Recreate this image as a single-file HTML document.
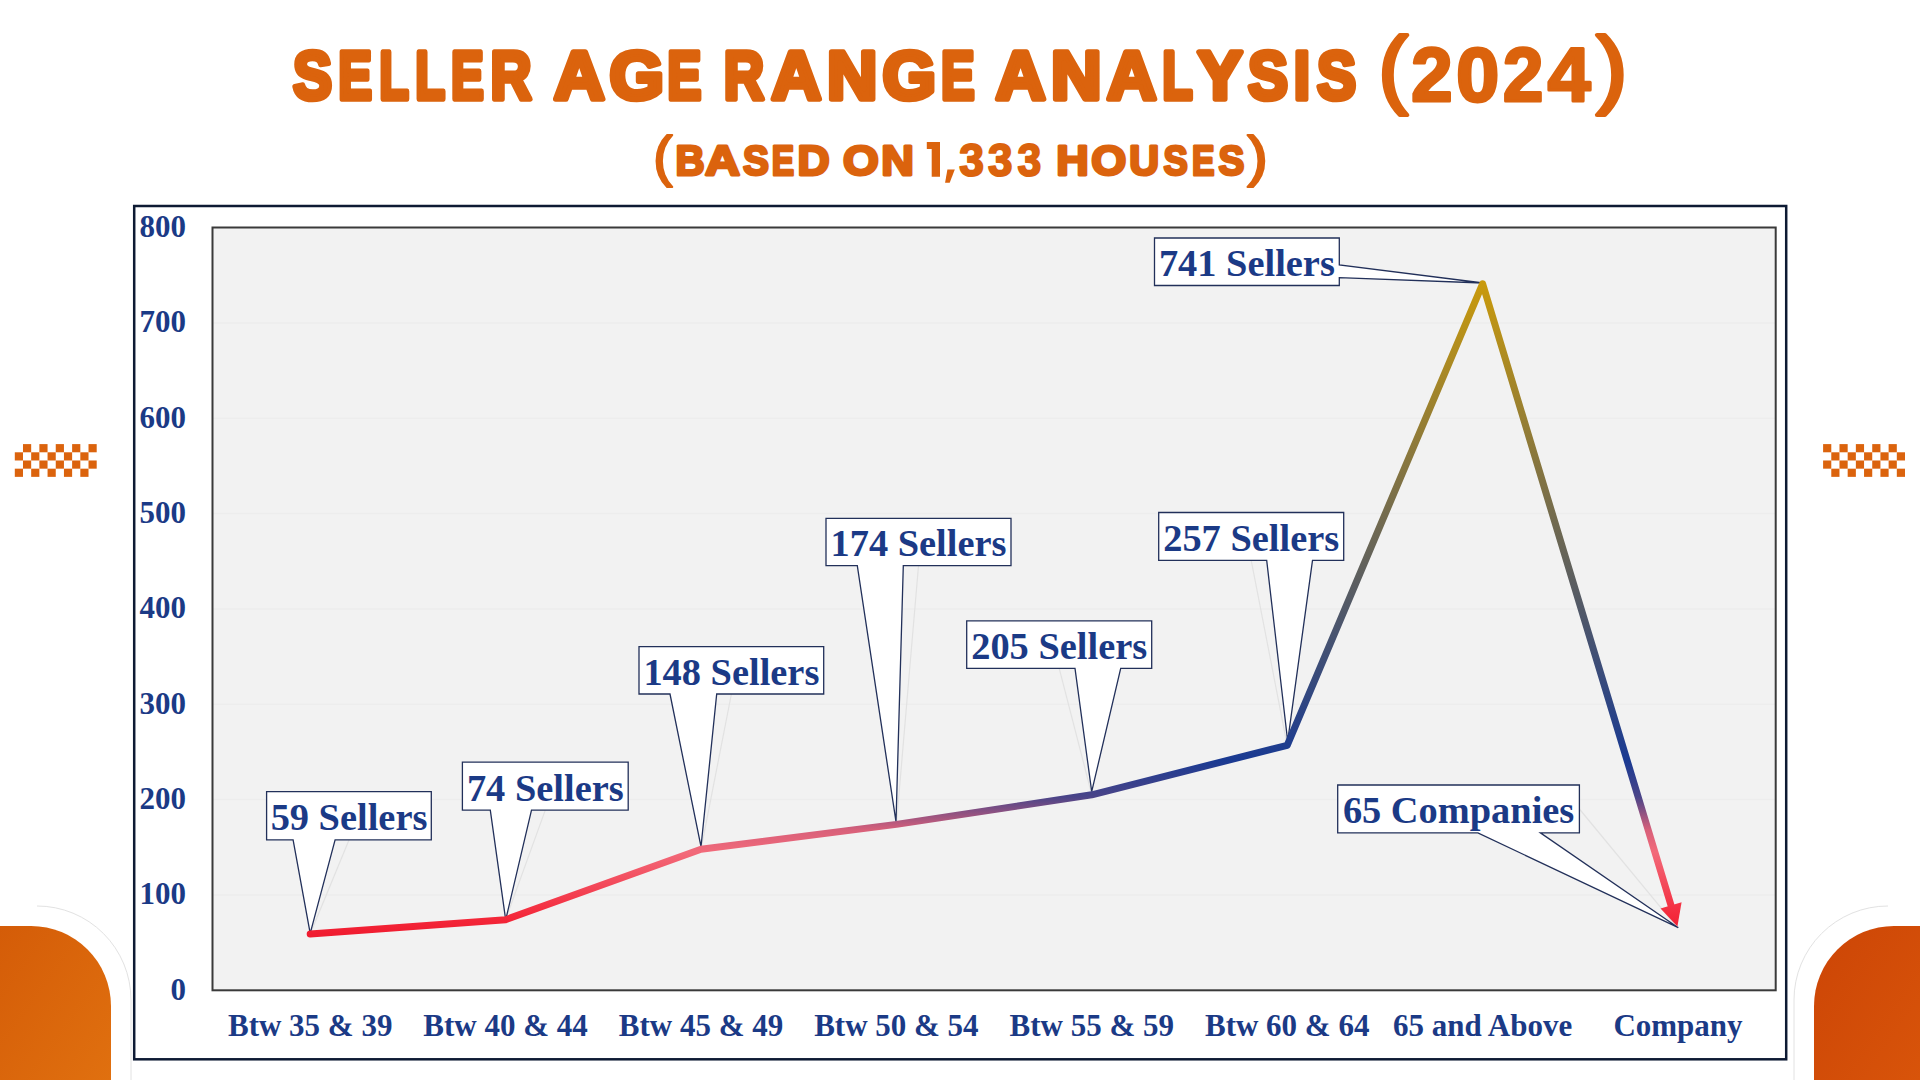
<!DOCTYPE html>
<html><head><meta charset="utf-8">
<style>
html,body{margin:0;padding:0;background:#fff;width:1920px;height:1080px;overflow:hidden}
svg{display:block}
.t{font-family:"Liberation Sans",sans-serif;font-weight:bold;fill:#db630d}
.t[font-weight="normal"]{font-weight:normal}
.s{font-family:"Liberation Serif",serif;font-weight:bold;fill:#1b3a86}
</style></head><body>
<svg width="1920" height="1080" viewBox="0 0 1920 1080">
<defs>
<linearGradient id="lg" gradientUnits="userSpaceOnUse" x1="0" y1="283" x2="0" y2="934">
<stop offset="0" stop-color="#c99a0c"/>
<stop offset="0.7327" stop-color="#1a3a92"/>
<stop offset="0.7896" stop-color="#4a4488"/>
<stop offset="0.8402" stop-color="#d8607a"/>
<stop offset="0.8740" stop-color="#f26a7a"/>
<stop offset="0.9708" stop-color="#f42a3c"/>
<stop offset="1" stop-color="#f01c30"/>
</linearGradient>
<linearGradient id="og1" x1="0" y1="0" x2="1" y2="1">
<stop offset="0" stop-color="#d45c08"/><stop offset="1" stop-color="#e0700f"/>
</linearGradient>
<linearGradient id="og2" x1="0" y1="0" x2="1" y2="1">
<stop offset="0" stop-color="#cc4506"/><stop offset="1" stop-color="#d8540a"/>
</linearGradient>
</defs>

<text class="t" x="292.95" y="99.25" font-size="68.81" stroke="#db630d" stroke-width="5.5" stroke-linejoin="round" textLength="39.03" lengthAdjust="spacingAndGlyphs">S</text>
<text class="t" x="338.17" y="99.25" font-size="68.81" stroke="#db630d" stroke-width="5.5" stroke-linejoin="round" textLength="33.76" lengthAdjust="spacingAndGlyphs">E</text>
<text class="t" x="379.20" y="99.25" font-size="68.81" stroke="#db630d" stroke-width="5.5" stroke-linejoin="round" textLength="29.61" lengthAdjust="spacingAndGlyphs">L</text>
<text class="t" x="415.13" y="99.25" font-size="68.81" stroke="#db630d" stroke-width="5.5" stroke-linejoin="round" textLength="29.86" lengthAdjust="spacingAndGlyphs">L</text>
<text class="t" x="450.96" y="99.25" font-size="68.81" stroke="#db630d" stroke-width="5.5" stroke-linejoin="round" textLength="32.75" lengthAdjust="spacingAndGlyphs">E</text>
<text class="t" x="490.58" y="99.25" font-size="68.81" stroke="#db630d" stroke-width="5.5" stroke-linejoin="round" textLength="41.00" lengthAdjust="spacingAndGlyphs">R</text>
<text class="t" x="553.95" y="99.25" font-size="68.81" stroke="#db630d" stroke-width="5.5" stroke-linejoin="round" textLength="50.55" lengthAdjust="spacingAndGlyphs">A</text>
<text class="t" x="609.44" y="99.25" font-size="68.81" stroke="#db630d" stroke-width="5.5" stroke-linejoin="round" textLength="54.43" lengthAdjust="spacingAndGlyphs">G</text>
<text class="t" x="667.15" y="99.25" font-size="68.81" stroke="#db630d" stroke-width="5.5" stroke-linejoin="round" textLength="34.10" lengthAdjust="spacingAndGlyphs">E</text>
<text class="t" x="723.77" y="99.25" font-size="68.81" stroke="#db630d" stroke-width="5.5" stroke-linejoin="round" textLength="40.30" lengthAdjust="spacingAndGlyphs">R</text>
<text class="t" x="771.47" y="99.25" font-size="68.81" stroke="#db630d" stroke-width="5.5" stroke-linejoin="round" textLength="49.64" lengthAdjust="spacingAndGlyphs">A</text>
<text class="t" x="826.96" y="99.25" font-size="68.81" stroke="#db630d" stroke-width="5.5" stroke-linejoin="round" textLength="50.35" lengthAdjust="spacingAndGlyphs">N</text>
<text class="t" x="882.62" y="99.25" font-size="68.81" stroke="#db630d" stroke-width="5.5" stroke-linejoin="round" textLength="53.46" lengthAdjust="spacingAndGlyphs">G</text>
<text class="t" x="940.91" y="99.25" font-size="68.81" stroke="#db630d" stroke-width="5.5" stroke-linejoin="round" textLength="33.63" lengthAdjust="spacingAndGlyphs">E</text>
<text class="t" x="995.66" y="99.25" font-size="68.81" stroke="#db630d" stroke-width="5.5" stroke-linejoin="round" textLength="49.69" lengthAdjust="spacingAndGlyphs">A</text>
<text class="t" x="1051.01" y="99.25" font-size="68.81" stroke="#db630d" stroke-width="5.5" stroke-linejoin="round" textLength="50.49" lengthAdjust="spacingAndGlyphs">N</text>
<text class="t" x="1106.90" y="99.25" font-size="68.81" stroke="#db630d" stroke-width="5.5" stroke-linejoin="round" textLength="49.42" lengthAdjust="spacingAndGlyphs">A</text>
<text class="t" x="1162.20" y="99.25" font-size="68.81" stroke="#db630d" stroke-width="5.5" stroke-linejoin="round" textLength="30.40" lengthAdjust="spacingAndGlyphs">L</text>
<text class="t" x="1197.80" y="99.25" font-size="68.81" stroke="#db630d" stroke-width="5.5" stroke-linejoin="round" textLength="44.61" lengthAdjust="spacingAndGlyphs">Y</text>
<text class="t" x="1247.95" y="99.25" font-size="68.81" stroke="#db630d" stroke-width="5.5" stroke-linejoin="round" textLength="39.93" lengthAdjust="spacingAndGlyphs">S</text>
<text class="t" x="1293.77" y="99.25" font-size="68.81" stroke="#db630d" stroke-width="5.5" stroke-linejoin="round" textLength="16.29" lengthAdjust="spacingAndGlyphs">I</text>
<text class="t" x="1316.90" y="99.25" font-size="68.81" stroke="#db630d" stroke-width="5.5" stroke-linejoin="round" textLength="39.07" lengthAdjust="spacingAndGlyphs">S</text>
<text class="t" font-weight="normal" x="1378.54" y="97.40" font-size="84.71" stroke="#db630d" stroke-width="4" stroke-linejoin="round" textLength="29.29" lengthAdjust="spacingAndGlyphs">(</text>
<text class="t" x="1411.15" y="100.50" font-size="75.8" stroke="#db630d" stroke-width="3" stroke-linejoin="round" textLength="41.24" lengthAdjust="spacingAndGlyphs">2</text>
<text class="t" x="1456.15" y="100.50" font-size="75.8" stroke="#db630d" stroke-width="3" stroke-linejoin="round" textLength="42.93" lengthAdjust="spacingAndGlyphs">0</text>
<text class="t" x="1502.96" y="100.50" font-size="75.8" stroke="#db630d" stroke-width="3" stroke-linejoin="round" textLength="40.31" lengthAdjust="spacingAndGlyphs">2</text>
<text class="t" x="1547.81" y="100.50" font-size="75.8" stroke="#db630d" stroke-width="3" stroke-linejoin="round" textLength="42.82" lengthAdjust="spacingAndGlyphs">4</text>
<text class="t" font-weight="normal" x="1596.47" y="97.40" font-size="84.71" stroke="#db630d" stroke-width="4" stroke-linejoin="round" textLength="30.70" lengthAdjust="spacingAndGlyphs">)</text>
<text class="t" font-weight="normal" x="652.92" y="174.55" font-size="54.94" stroke="#db630d" stroke-width="2" stroke-linejoin="round" textLength="19.54" lengthAdjust="spacingAndGlyphs">(</text>
<text class="t" x="675.53" y="175.20" font-size="43.3" stroke="#db630d" stroke-width="3" stroke-linejoin="round" textLength="29.10" lengthAdjust="spacingAndGlyphs">B</text>
<text class="t" x="705.00" y="175.20" font-size="43.3" stroke="#db630d" stroke-width="3" stroke-linejoin="round" textLength="35.03" lengthAdjust="spacingAndGlyphs">A</text>
<text class="t" x="742.95" y="175.20" font-size="43.3" stroke="#db630d" stroke-width="3" stroke-linejoin="round" textLength="25.94" lengthAdjust="spacingAndGlyphs">S</text>
<text class="t" x="771.77" y="175.20" font-size="43.3" stroke="#db630d" stroke-width="3" stroke-linejoin="round" textLength="22.38" lengthAdjust="spacingAndGlyphs">E</text>
<text class="t" x="797.58" y="175.20" font-size="43.3" stroke="#db630d" stroke-width="3" stroke-linejoin="round" textLength="32.15" lengthAdjust="spacingAndGlyphs">D</text>
<text class="t" x="843.00" y="175.20" font-size="43.3" stroke="#db630d" stroke-width="3" stroke-linejoin="round" textLength="35.78" lengthAdjust="spacingAndGlyphs">O</text>
<text class="t" x="881.15" y="175.20" font-size="43.3" stroke="#db630d" stroke-width="3" stroke-linejoin="round" textLength="32.68" lengthAdjust="spacingAndGlyphs">N</text>
<text class="t" x="959.24" y="175.70" font-size="45.6" stroke="#db630d" stroke-width="2" stroke-linejoin="round" textLength="24.67" lengthAdjust="spacingAndGlyphs">3</text>
<text class="t" x="988.00" y="175.70" font-size="45.6" stroke="#db630d" stroke-width="2" stroke-linejoin="round" textLength="24.44" lengthAdjust="spacingAndGlyphs">3</text>
<text class="t" x="1017.38" y="175.70" font-size="45.6" stroke="#db630d" stroke-width="2" stroke-linejoin="round" textLength="23.70" lengthAdjust="spacingAndGlyphs">3</text>
<text class="t" x="1056.34" y="175.20" font-size="43.3" stroke="#db630d" stroke-width="3" stroke-linejoin="round" textLength="32.56" lengthAdjust="spacingAndGlyphs">H</text>
<text class="t" x="1091.19" y="175.20" font-size="43.3" stroke="#db630d" stroke-width="3" stroke-linejoin="round" textLength="35.02" lengthAdjust="spacingAndGlyphs">O</text>
<text class="t" x="1129.34" y="175.20" font-size="43.3" stroke="#db630d" stroke-width="3" stroke-linejoin="round" textLength="29.88" lengthAdjust="spacingAndGlyphs">U</text>
<text class="t" x="1163.57" y="175.20" font-size="43.3" stroke="#db630d" stroke-width="3" stroke-linejoin="round" textLength="24.29" lengthAdjust="spacingAndGlyphs">S</text>
<text class="t" x="1191.96" y="175.20" font-size="43.3" stroke="#db630d" stroke-width="3" stroke-linejoin="round" textLength="22.52" lengthAdjust="spacingAndGlyphs">E</text>
<text class="t" x="1218.57" y="175.20" font-size="43.3" stroke="#db630d" stroke-width="3" stroke-linejoin="round" textLength="25.83" lengthAdjust="spacingAndGlyphs">S</text>
<text class="t" font-weight="normal" x="1247.33" y="174.55" font-size="54.94" stroke="#db630d" stroke-width="2" stroke-linejoin="round" textLength="20.71" lengthAdjust="spacingAndGlyphs">)</text>
<path fill="#db630d" d="M926.8 141.9 L940 141.9 L940 176.7 L931.7 176.7 L931.7 148.9 L926.8 148.9 Z"/>
<path fill="#db630d" d="M947.4 169.5 L954.8 169.5 L949.7 182.7 L945.1 182.7 Z"/>
<g fill="#db630d"><rect x="22.99" y="444.10" width="8.19" height="8.19"/><rect x="39.37" y="444.10" width="8.19" height="8.19"/><rect x="55.75" y="444.10" width="8.19" height="8.19"/><rect x="72.13" y="444.10" width="8.19" height="8.19"/><rect x="88.51" y="444.10" width="8.19" height="8.19"/><rect x="14.80" y="452.29" width="8.19" height="8.19"/><rect x="31.18" y="452.29" width="8.19" height="8.19"/><rect x="47.56" y="452.29" width="8.19" height="8.19"/><rect x="63.94" y="452.29" width="8.19" height="8.19"/><rect x="80.32" y="452.29" width="8.19" height="8.19"/><rect x="22.99" y="460.48" width="8.19" height="8.19"/><rect x="39.37" y="460.48" width="8.19" height="8.19"/><rect x="55.75" y="460.48" width="8.19" height="8.19"/><rect x="72.13" y="460.48" width="8.19" height="8.19"/><rect x="88.51" y="460.48" width="8.19" height="8.19"/><rect x="14.80" y="468.67" width="8.19" height="8.19"/><rect x="31.18" y="468.67" width="8.19" height="8.19"/><rect x="47.56" y="468.67" width="8.19" height="8.19"/><rect x="63.94" y="468.67" width="8.19" height="8.19"/><rect x="80.32" y="468.67" width="8.19" height="8.19"/></g>
<g fill="#db630d"><rect x="1823.10" y="444.10" width="8.19" height="8.19"/><rect x="1839.48" y="444.10" width="8.19" height="8.19"/><rect x="1855.86" y="444.10" width="8.19" height="8.19"/><rect x="1872.24" y="444.10" width="8.19" height="8.19"/><rect x="1888.62" y="444.10" width="8.19" height="8.19"/><rect x="1831.29" y="452.29" width="8.19" height="8.19"/><rect x="1847.67" y="452.29" width="8.19" height="8.19"/><rect x="1864.05" y="452.29" width="8.19" height="8.19"/><rect x="1880.43" y="452.29" width="8.19" height="8.19"/><rect x="1896.81" y="452.29" width="8.19" height="8.19"/><rect x="1823.10" y="460.48" width="8.19" height="8.19"/><rect x="1839.48" y="460.48" width="8.19" height="8.19"/><rect x="1855.86" y="460.48" width="8.19" height="8.19"/><rect x="1872.24" y="460.48" width="8.19" height="8.19"/><rect x="1888.62" y="460.48" width="8.19" height="8.19"/><rect x="1831.29" y="468.67" width="8.19" height="8.19"/><rect x="1847.67" y="468.67" width="8.19" height="8.19"/><rect x="1864.05" y="468.67" width="8.19" height="8.19"/><rect x="1880.43" y="468.67" width="8.19" height="8.19"/><rect x="1896.81" y="468.67" width="8.19" height="8.19"/></g>
<path d="M0 926 L31 926 A80 80 0 0 1 111 1006 L111 1080 L0 1080 Z" fill="url(#og1)"/>
<path d="M37 906 A94 94 0 0 1 131 1000 L131 1080" fill="none" stroke="#e2e2e2" stroke-width="1"/>
<path d="M1920 926 L1894 926 A80 80 0 0 0 1814 1006 L1814 1080 L1920 1080 Z" fill="url(#og2)"/>
<path d="M1888 906 A94 94 0 0 0 1794 1000 L1794 1080" fill="none" stroke="#e2e2e2" stroke-width="1"/>
<rect x="134.2" y="206" width="1652" height="853.3" fill="#fff" stroke="#0d1a33" stroke-width="2.5"/>
<rect x="212.5" y="227.5" width="1563.2" height="762.8" fill="#f2f2f2"/>
<g stroke="#ededed" stroke-width="1.5"><line x1="212.5" x2="1775.7" y1="894.9" y2="894.9"/><line x1="212.5" x2="1775.7" y1="799.6" y2="799.6"/><line x1="212.5" x2="1775.7" y1="704.2" y2="704.2"/><line x1="212.5" x2="1775.7" y1="608.9" y2="608.9"/><line x1="212.5" x2="1775.7" y1="513.5" y2="513.5"/><line x1="212.5" x2="1775.7" y1="418.2" y2="418.2"/><line x1="212.5" x2="1775.7" y1="322.9" y2="322.9"/></g>
<rect x="212.5" y="227.5" width="1563.2" height="762.8" fill="none" stroke="#3a3a3a" stroke-width="2"/>
<g class="s" font-size="31" text-anchor="end"><text x="186" y="999.8">0</text><text x="186" y="904.4">100</text><text x="186" y="809.1">200</text><text x="186" y="713.8">300</text><text x="186" y="618.4">400</text><text x="186" y="523.0">500</text><text x="186" y="427.7">600</text><text x="186" y="332.4">700</text><text x="186" y="237.0">800</text></g>
<g class="s" font-size="31" text-anchor="middle"><text x="310.2" y="1036.2">Btw 35 &amp; 39</text><text x="505.6" y="1036.2">Btw 40 &amp; 44</text><text x="701.0" y="1036.2">Btw 45 &amp; 49</text><text x="896.4" y="1036.2">Btw 50 &amp; 54</text><text x="1091.8" y="1036.2">Btw 55 &amp; 59</text><text x="1287.2" y="1036.2">Btw 60 &amp; 64</text><text x="1482.6" y="1036.2">65 and Above</text><text x="1678.0" y="1036.2">Company</text></g>
<line x1="349.0" y1="839.9" x2="310.2" y2="934.0" stroke="#e2e2e2" stroke-width="1.2"/><path d="M266.6 791.7 L431.3 791.7 L431.3 839.9 L335.1 839.9 L310.2 933.3 L293.1 839.9 L266.6 839.9 Z" fill="#fff" stroke="#22305a" stroke-width="1.3" stroke-linejoin="miter"/><text class="s" x="349.0" y="830.4" font-size="38.4" text-anchor="middle">59 Sellers</text>
<line x1="545.3" y1="810.1" x2="505.6" y2="919.7" stroke="#e2e2e2" stroke-width="1.2"/><path d="M462.4 762.2 L628.2 762.2 L628.2 810.1 L531.5 810.1 L505.7 919.8 L490.3 810.1 L462.4 810.1 Z" fill="#fff" stroke="#22305a" stroke-width="1.3" stroke-linejoin="miter"/><text class="s" x="545.3" y="800.6" font-size="38.4" text-anchor="middle">74 Sellers</text>
<line x1="731.4" y1="694.0" x2="701.0" y2="849.2" stroke="#e2e2e2" stroke-width="1.2"/><path d="M639 646.7 L823.7 646.7 L823.7 694 L716.7 694 L701 846.7 L670 694 L639 694 Z" fill="#fff" stroke="#22305a" stroke-width="1.3" stroke-linejoin="miter"/><text class="s" x="731.4" y="684.5" font-size="38.4" text-anchor="middle">148 Sellers</text>
<line x1="918.5" y1="565.7" x2="896.4" y2="824.4" stroke="#e2e2e2" stroke-width="1.2"/><path d="M826 518.3 L1011 518.3 L1011 565.7 L903.3 565.7 L896 821.7 L857.3 565.7 L826 565.7 Z" fill="#fff" stroke="#22305a" stroke-width="1.3" stroke-linejoin="miter"/><text class="s" x="918.5" y="556.2" font-size="38.4" text-anchor="middle">174 Sellers</text>
<line x1="1059.2" y1="668.3" x2="1091.8" y2="794.8" stroke="#e2e2e2" stroke-width="1.2"/><path d="M966.7 620.8 L1151.7 620.8 L1151.7 668.3 L1120.7 668.3 L1091.7 791.7 L1075 668.3 L966.7 668.3 Z" fill="#fff" stroke="#22305a" stroke-width="1.3" stroke-linejoin="miter"/><text class="s" x="1059.2" y="658.8" font-size="38.4" text-anchor="middle">205 Sellers</text>
<line x1="1251.2" y1="560.4" x2="1287.2" y2="745.3" stroke="#e2e2e2" stroke-width="1.2"/><path d="M1158.7 512.5 L1343.7 512.5 L1343.7 560.4 L1312.5 560.4 L1287.7 741.2 L1266.7 560.4 L1158.7 560.4 Z" fill="#fff" stroke="#22305a" stroke-width="1.3" stroke-linejoin="miter"/><text class="s" x="1251.2" y="550.9" font-size="38.4" text-anchor="middle">257 Sellers</text>
<path d="M1154.5 238 L1339.3 238 L1339.3 265 L1483.2 283 L1339.3 277.6 L1339.3 285.5 L1154.5 285.5 Z" fill="#fff" stroke="#22305a" stroke-width="1.3" stroke-linejoin="miter"/><text class="s" x="1246.9" y="276.0" font-size="38.4" text-anchor="middle">741 Sellers</text>
<line x1="1579.4" y1="809.0" x2="1678.0" y2="928.3" stroke="#e2e2e2" stroke-width="1.2"/><path d="M1337.7 785 L1579.4 785 L1579.4 832.9 L1540.4 832.9 L1678.3 927.7 L1477.9 832.9 L1337.7 832.9 Z" fill="#fff" stroke="#22305a" stroke-width="1.3" stroke-linejoin="miter"/><text class="s" x="1458.6" y="823.4" font-size="38.4" text-anchor="middle">65 Companies</text>
<polyline fill="none" stroke="url(#lg)" stroke-width="7" stroke-linejoin="round" stroke-linecap="round" points="310.2,934.0 505.6,919.7 701.0,849.2 896.4,824.4 1091.8,794.8 1287.2,745.3 1482.6,283.8 1671.6,907.3"/>
<path fill="url(#lg)" d="M1677.4 926.4 L1660.5 908.5 L1681.6 902.2 Z"/>
</svg>
</body></html>
